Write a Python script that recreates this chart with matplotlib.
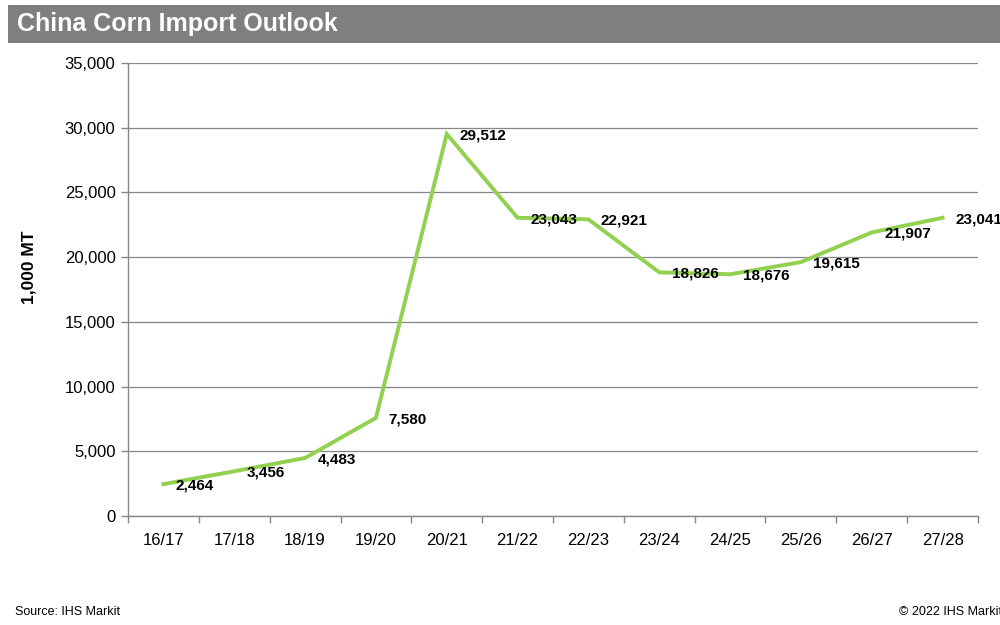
import matplotlib
matplotlib.use("Agg")
import matplotlib.pyplot as plt
from matplotlib.patches import Rectangle
from matplotlib.ticker import FuncFormatter, MultipleLocator

seasons = ["16/17", "17/18", "18/19", "19/20", "20/21", "21/22",
           "22/23", "23/24", "24/25", "25/26", "26/27", "27/28"]
imports = [2464, 3456, 4483, 7580, 29512, 23043,
           22921, 18826, 18676, 19615, 21907, 23041]

plt.rcParams["font.family"] = ["Liberation Sans", "DejaVu Sans"]

fig = plt.figure(figsize=(10, 6.25), dpi=100)
fig.patch.set_facecolor("white")

# Title banner
fig.patches.append(Rectangle((0.008, 0.9312), 0.992, 0.0608, transform=fig.transFigure,
                             facecolor="#7f7f7f", edgecolor="none", zorder=0))
fig.text(0.017, 0.9616, "China Corn Import Outlook", color="white", fontsize=18,
         fontweight="bold", va="center", ha="left")

ax = fig.add_axes([0.128, 0.1744, 0.850, 0.7248])
x = list(range(len(seasons)))
ax.plot(x, imports, color="#92d050", linewidth=2.8, solid_joinstyle="miter", zorder=3)

for xi, v in zip(x, imports):
    ax.annotate(f"{v:,}", (xi, v), xytext=(9, -1), textcoords="offset points",
                ha="left", va="center", fontsize=11, fontweight="bold", color="black",
                zorder=4)

ax.set_xlim(-0.5, len(seasons) - 0.5)
ax.set_ylim(0, 35000)
ax.yaxis.set_major_locator(MultipleLocator(5000))
ax.yaxis.set_major_formatter(FuncFormatter(lambda v, p: f"{int(v):,}"))
ax.set_xticks(x)
ax.set_xticklabels(seasons)
ax.set_xticks([i - 0.5 for i in range(len(seasons) + 1)], minor=True)
ax.tick_params(axis="x", which="major", length=0, labelsize=12, pad=12)
ax.tick_params(axis="x", which="minor", length=5, color="#868686", width=1)
ax.tick_params(axis="y", length=5, color="#868686", width=1, labelsize=12, pad=4)

ax.grid(axis="y", color="#868686", linewidth=0.9)
ax.set_axisbelow(True)
for side in ["top", "right"]:
    ax.spines[side].set_visible(False)
for side in ["left", "bottom"]:
    ax.spines[side].set_color("#868686")
    ax.spines[side].set_linewidth(1)

ax.set_ylabel("1,000 MT", fontsize=12.5, fontweight="bold")
ax.yaxis.set_label_coords(-0.1075, 0.55)

fig.text(0.015, 0.021, "Source: IHS Markit", fontsize=9, ha="left", va="center",
         family=["Liberation Sans Narrow", "Liberation Sans", "DejaVu Sans"])
fig.text(0.899, 0.021, "\u00a9 2022 IHS Markit", fontsize=9, ha="left", va="center",
         family=["Liberation Sans Narrow", "Liberation Sans", "DejaVu Sans"])

fig.savefig("out.png", dpi=100)
